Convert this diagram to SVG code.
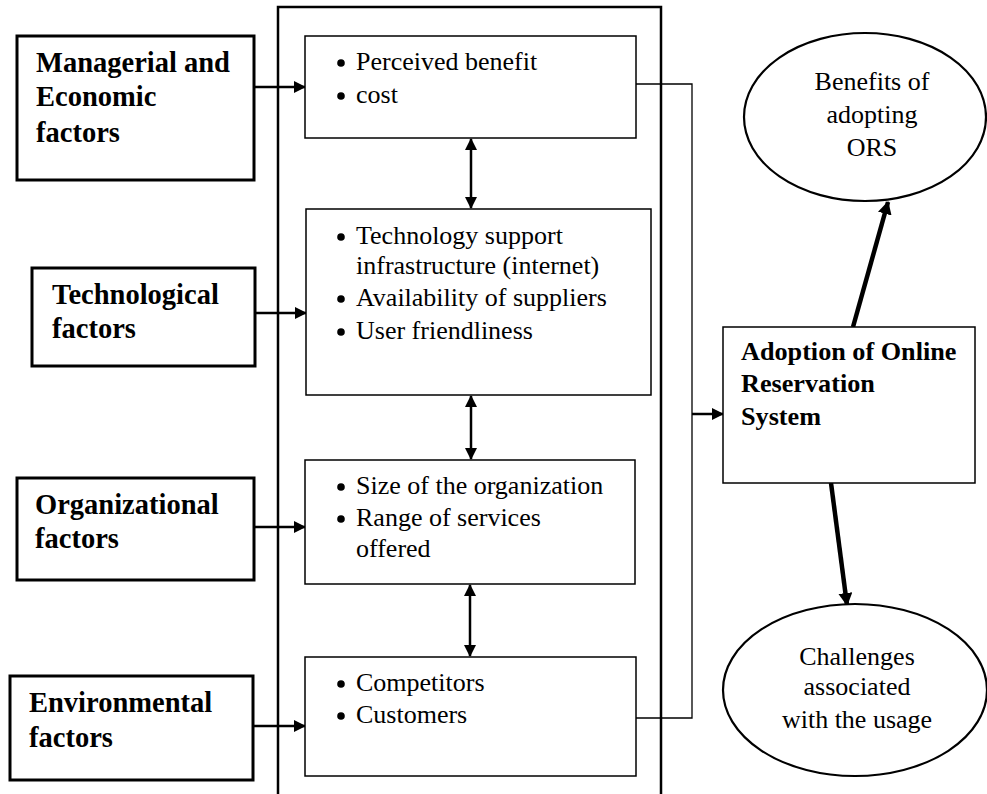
<svg xmlns="http://www.w3.org/2000/svg" width="987" height="794" viewBox="0 0 987 794">
<style>
.box{fill:#fff;stroke:#000;stroke-width:3}
.ibox{fill:#fff;stroke:#000;stroke-width:1.5}
.ell{fill:#fff;stroke:#000;stroke-width:2.2}
.b{font-family:"Liberation Serif","Times New Roman",serif;font-weight:bold;font-size:28.5px;fill:#000}
.b2{font-family:"Liberation Serif","Times New Roman",serif;font-weight:bold;font-size:26.2px;fill:#000}
.r{font-family:"Liberation Serif","Times New Roman",serif;font-size:26px;fill:#000}
.c{text-anchor:middle}
.arr{stroke:#000;stroke-width:2.5;fill:none}
.thin{stroke:#000;stroke-width:1.3;fill:none}
.thick{stroke:#000;stroke-width:4.5;fill:none}
</style>
<defs>
<marker id="ah" markerUnits="userSpaceOnUse" markerWidth="14" markerHeight="14" refX="11" refY="6" orient="auto">
<path d="M0,0 L12,6 L0,12 Z" fill="#000"/>
</marker>
<marker id="ahs" markerUnits="userSpaceOnUse" markerWidth="14" markerHeight="14" refX="11" refY="6" orient="auto-start-reverse">
<path d="M0,0 L12,6 L0,12 Z" fill="#000"/>
</marker>
<marker id="aht" markerUnits="userSpaceOnUse" markerWidth="16" markerHeight="16" refX="12" refY="7" orient="auto">
<path d="M0,0 L13,7 L0,14 Z" fill="#000"/>
</marker>
</defs>

<path id="outer" d="M278,800 V7 H661 V800" fill="none" stroke="#000" stroke-width="2.5"/>

<g id="connectors">
<line class="arr" x1="254" y1="87" x2="305" y2="87" marker-end="url(#ah)"/>
<line class="arr" x1="255" y1="313" x2="306" y2="313" marker-end="url(#ah)"/>
<line class="arr" x1="254" y1="527" x2="305" y2="527" marker-end="url(#ah)"/>
<line class="arr" x1="253" y1="726" x2="305" y2="726" marker-end="url(#ah)"/>
<line class="arr" x1="471" y1="139" x2="471" y2="208" marker-start="url(#ahs)" marker-end="url(#ahs)"/>
<line class="arr" x1="471" y1="396" x2="471" y2="459" marker-start="url(#ahs)" marker-end="url(#ahs)"/>
<line class="arr" x1="470" y1="585" x2="470" y2="656" marker-start="url(#ahs)" marker-end="url(#ahs)"/>
<path class="thin" d="M636,84 H692 V718 H636"/>
<line class="arr" x1="692" y1="414" x2="723" y2="414" marker-end="url(#ah)"/>
<line class="thick" x1="853" y1="327" x2="888" y2="202" marker-end="url(#aht)"/>
<line class="thick" x1="831" y1="483" x2="847" y2="605" marker-end="url(#aht)"/>
</g>

<g id="managerial">
<rect class="box" x="17" y="36" width="237" height="144"/>
<text class="b" x="36" y="72">Managerial and</text>
<text class="b" x="36" y="106">Economic</text>
<text class="b" x="36" y="142">factors</text>
</g>
<g id="technological">
<rect class="box" x="32" y="268" width="223" height="98"/>
<text class="b" x="52" y="304">Technological</text>
<text class="b" x="52" y="338">factors</text>
</g>
<g id="organizational">
<rect class="box" x="17" y="478" width="237" height="102"/>
<text class="b" x="35" y="514">Organizational</text>
<text class="b" x="35" y="548">factors</text>
</g>
<g id="environmental">
<rect class="box" x="10" y="676" width="243" height="104"/>
<text class="b" x="29" y="712">Environmental</text>
<text class="b" x="29" y="747">factors</text>
</g>

<g id="perceived">
<rect class="ibox" x="305" y="36" width="331" height="102"/>
<circle cx="341" cy="63" r="3.8"/>
<text class="r" x="356" y="70">Perceived benefit</text>
<circle cx="341" cy="96" r="3.8"/>
<text class="r" x="356" y="103">cost</text>
</g>
<g id="tech-items">
<rect class="ibox" x="306" y="209" width="345" height="186"/>
<circle cx="341" cy="237" r="3.8"/>
<text class="r" x="356" y="244">Technology support</text>
<text class="r" x="356" y="274">infrastructure (internet)</text>
<circle cx="341" cy="299" r="3.8"/>
<text class="r" x="356" y="306">Availability of suppliers</text>
<circle cx="341" cy="332" r="3.8"/>
<text class="r" x="356" y="339">User friendliness</text>
</g>
<g id="org-items">
<rect class="ibox" x="305" y="460" width="330" height="124"/>
<circle cx="341" cy="487" r="3.8"/>
<text class="r" x="356" y="494">Size of the organization</text>
<circle cx="341" cy="519" r="3.8"/>
<text class="r" x="356" y="526">Range of services</text>
<text class="r" x="356" y="557">offered</text>
</g>
<g id="env-items">
<rect class="ibox" x="305" y="657" width="331" height="119"/>
<circle cx="341" cy="684" r="3.8"/>
<text class="r" x="356" y="691">Competitors</text>
<circle cx="341" cy="716" r="3.8"/>
<text class="r" x="356" y="723">Customers</text>
</g>

<g id="adoption">
<rect class="ibox" x="723" y="327" width="252" height="156"/>
<text class="b2" x="741" y="360">Adoption of Online</text>
<text class="b2" x="741" y="392">Reservation</text>
<text class="b2" x="741" y="425">System</text>
</g>
<g id="benefits">
<ellipse class="ell" cx="865" cy="117" rx="121" ry="84"/>
<text class="r c" x="872" y="90">Benefits of</text>
<text class="r c" x="872" y="123">adopting</text>
<text class="r c" x="872" y="156">ORS</text>
</g>
<g id="challenges">
<ellipse class="ell" cx="855" cy="690" rx="132" ry="86"/>
<text class="r c" x="857" y="665">Challenges</text>
<text class="r c" x="857" y="695">associated</text>
<text class="r c" x="857" y="728">with the usage</text>
</g>
</svg>
